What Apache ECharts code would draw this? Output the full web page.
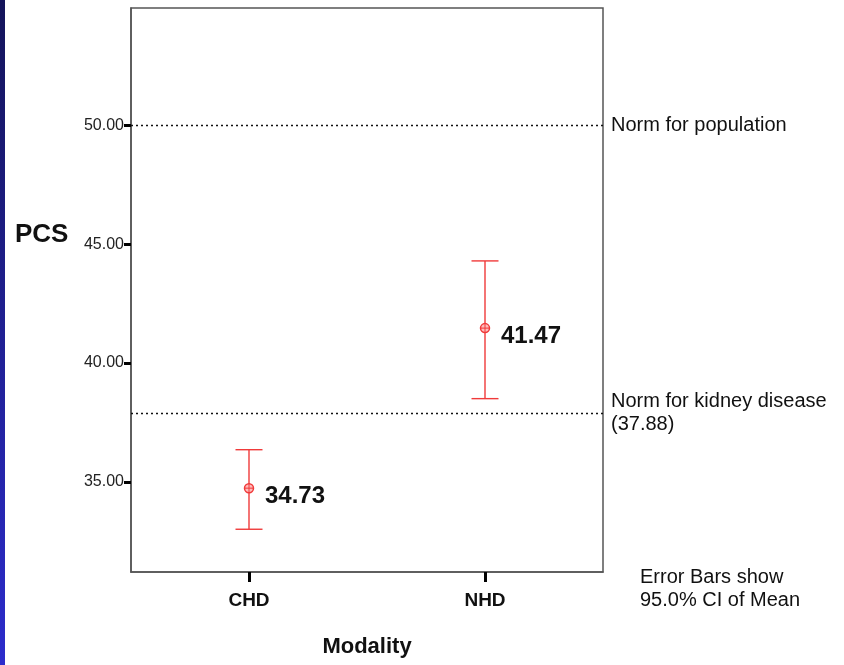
<!DOCTYPE html>
<html><head><meta charset="utf-8">
<script src="https://cdn.jsdelivr.net/npm/echarts@6/dist/echarts.min.js"></script>
<style>html,body{margin:0;padding:0;background:#fff}#c{width:844px;height:665px}</style>
</head><body><div id="c"></div>
<script>
const categories = ['CHD', 'NHD'];
const means = [34.73, 41.47];
const lowerCI = [33.0, 38.5];
const upperCI = [36.35, 44.3];
const yTickValues = [35, 40, 45, 50];
const yTickLabels = ['35.00', '40.00', '45.00', '50.00'];
const normValues = [50, 37.88];
const normLabels = ['Norm for population', 'Norm for kidney disease\n(37.88)'];
const noteLines = ['Error Bars show', '95.0% CI of Mean'];

const RED = '#f03a3a';
const chart = echarts.init(document.getElementById('c'), null, {renderer: 'canvas'});
const errData = categories.map((c, i) => [i, means[i], lowerCI[i], upperCI[i]]);

chart.setOption({
  animation: false,
  grid: {left: 131, right: 241, top: 8, bottom: 93, show: true, borderColor: '#555', borderWidth: 1.5, backgroundColor: 'transparent'},
  xAxis: {
    type: 'category', data: categories, boundaryGap: true,
    axisLine: {show: true, lineStyle: {color: '#555', width: 1.5}},
    axisTick: {show: true, alignWithLabel: true, length: 10, lineStyle: {color: '#000', width: 3}},
    axisLabel: {fontFamily: 'Liberation Sans', fontWeight: 'bold', fontSize: 19, color: '#111', margin: 19},
    name: 'Modality', nameLocation: 'middle', nameGap: 64,
    nameTextStyle: {fontFamily: 'Liberation Sans', fontWeight: 'bold', fontSize: 22, color: '#111'}
  },
  yAxis: {
    type: 'value', min: 31.2, max: 54.95,
    splitLine: {show: false},
    axisLine: {show: true, lineStyle: {color: '#555', width: 1.5}},
    axisTick: {show: true, length: 7, customValues: yTickValues, lineStyle: {color: '#000', width: 3}},
    axisLabel: {
      customValues: yTickValues, margin: 7, padding: [6, 0, 0, 0],
      fontFamily: 'Liberation Sans', fontSize: 16, color: '#222',
      formatter: v => yTickLabels[yTickValues.indexOf(v)]
    }
  },
  series: [{
    type: 'custom',
    data: errData,
    renderItem: function (params, api) {
      const x = api.value(0);
      const m = api.coord([x, api.value(1)]);
      const lo = api.coord([x, api.value(2)]);
      const hi = api.coord([x, api.value(3)]);
      const hw = 13.5;
      const ls = {stroke: RED, lineWidth: 1.4};
      return {
        type: 'group',
        children: [
          {type: 'line', shape: {x1: m[0], y1: lo[1], x2: m[0], y2: hi[1]}, style: ls},
          {type: 'line', shape: {x1: m[0] - hw, y1: lo[1], x2: m[0] + hw, y2: lo[1]}, style: ls},
          {type: 'line', shape: {x1: m[0] - hw, y1: hi[1], x2: m[0] + hw, y2: hi[1]}, style: ls},
          {type: 'circle', shape: {cx: m[0], cy: m[1], r: 4.5}, style: {fill: '#fbb', stroke: RED, lineWidth: 1.5}},
          {type: 'line', shape: {x1: m[0] - 4, y1: m[1], x2: m[0] + 4, y2: m[1]}, style: {stroke: RED, lineWidth: 1}},
          {type: 'line', shape: {x1: m[0], y1: m[1] - 4, x2: m[0], y2: m[1] + 4}, style: {stroke: RED, lineWidth: 1}},
          {type: 'text', x: m[0] + 16, y: m[1] + 8, style: {
            text: api.value(1).toFixed(2), fill: '#111', fontFamily: 'Liberation Sans',
            fontWeight: 'bold', fontSize: 24, verticalAlign: 'middle', align: 'left'}}
        ]
      };
    },
    markLine: {
      silent: true, symbol: 'none',
      lineStyle: {color: '#111', type: [2, 3], width: 1.3},
      label: {show: true, position: 'end', distance: 8, color: '#111',
        fontFamily: 'Liberation Sans', fontSize: 20, lineHeight: 23, align: 'left',
        formatter: p => normLabels[normValues.indexOf(p.value)]},
      data: normValues.map(v => ({yAxis: v}))
    }
  }],
  graphic: [
    {type: 'rect', left: 0, top: 0, shape: {width: 5, height: 665}, style: {
      fill: new echarts.graphic.LinearGradient(0, 0, 0, 1, [{offset: 0, color: '#14145a'}, {offset: 1, color: '#2c2ccc'}])}},
    {type: 'text', left: 15, top: 222, style: {text: 'PCS', fontFamily: 'Liberation Sans', fontWeight: 'bold', fontSize: 26, fill: '#111'}},
    {type: 'text', left: 640, top: 566, style: {text: noteLines.join('\n'), fontFamily: 'Liberation Sans', fontSize: 20, lineHeight: 23, fill: '#111'}}
  ]
});
</script></body></html>
